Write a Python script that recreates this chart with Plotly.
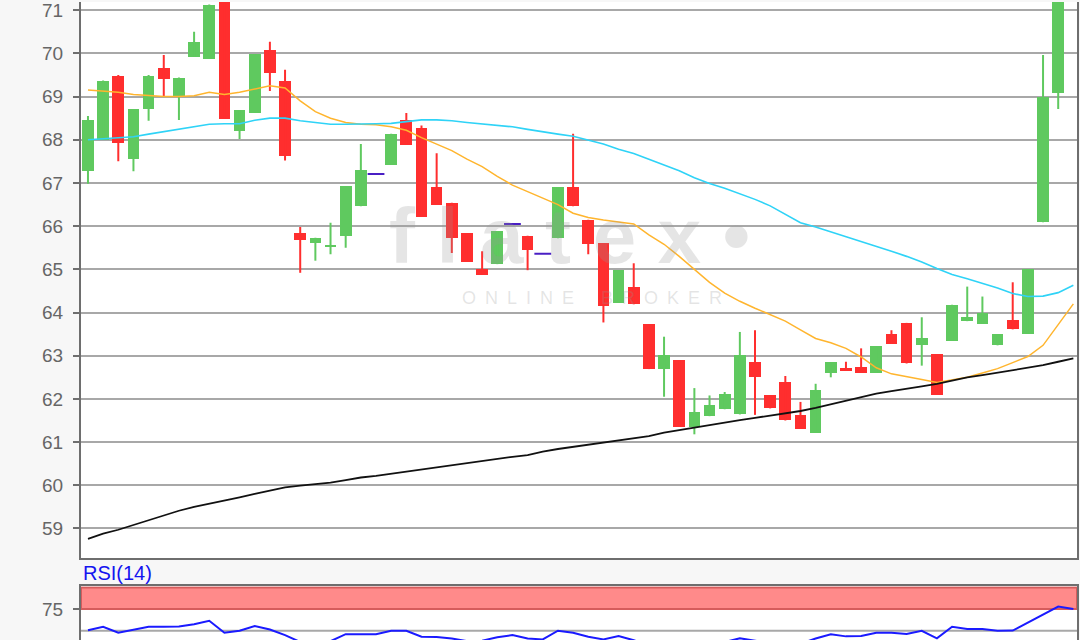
import plotly.graph_objects as go

# ---------------- data ----------------
opens = [67.28, 68.00, 69.48, 67.56, 68.71, 69.67, 69.01, 69.92, 69.87, 71.60,
         68.21, 68.63, 70.08, 69.35, 65.83, 65.62, 65.53, 65.77, 66.46, 67.21,
         67.42, 68.46, 68.28, 66.90, 66.54, 65.83, 65.00, 65.12, 66.05, 65.78,
         65.36, 65.72, 66.90, 66.15, 65.60, 64.23, 64.60, 63.73, 62.69, 62.90,
         61.34, 61.60, 61.76, 61.64, 62.85, 62.08, 62.39, 61.63, 61.22, 62.60,
         62.71, 62.75, 62.60, 63.50, 63.76, 63.25, 63.03, 63.34, 63.80, 63.74,
         63.24, 63.82, 63.51, 66.09, 69.09]
highs = [68.55, 69.37, 69.50, 68.71, 69.50, 69.96, 69.44, 70.50, 71.13, 71.60,
         68.69, 69.98, 70.27, 69.62, 65.98, 65.73, 66.08, 66.92, 67.90, 67.21,
         68.14, 68.62, 68.33, 67.69, 66.54, 65.83, 65.42, 65.88, 66.05, 65.78,
         65.36, 66.90, 68.14, 66.15, 65.60, 64.98, 65.14, 63.73, 63.44, 62.90,
         62.25, 62.08, 62.16, 63.55, 63.59, 62.08, 62.53, 61.93, 62.35, 62.85,
         62.86, 63.17, 63.22, 63.59, 63.76, 63.89, 63.03, 64.18, 64.60, 64.37,
         63.50, 64.70, 65.00, 69.96, 71.50]
lows = [66.98, 68.00, 67.50, 67.27, 68.44, 69.00, 68.46, 69.92, 69.87, 68.48,
        68.02, 68.63, 69.13, 67.52, 64.92, 65.20, 65.35, 65.50, 66.46, 67.21,
        67.42, 67.88, 66.22, 66.50, 65.38, 65.17, 64.88, 65.12, 66.05, 64.98,
        65.36, 65.72, 66.46, 65.35, 63.77, 64.23, 64.19, 62.69, 62.05, 61.36,
        61.18, 61.60, 61.76, 61.64, 61.63, 61.78, 61.50, 61.31, 61.22, 62.50,
        62.65, 62.60, 62.60, 63.28, 62.82, 62.77, 62.10, 63.34, 63.80, 63.74,
        63.24, 63.61, 63.51, 66.09, 68.71]
closes = [68.46, 69.35, 67.92, 68.71, 69.48, 69.41, 69.44, 70.27, 71.13, 68.48,
          68.69, 69.98, 69.55, 67.62, 65.68, 65.73, 65.57, 66.92, 67.31, 67.21,
          68.14, 67.88, 66.22, 66.50, 65.72, 65.17, 64.88, 65.88, 66.05, 65.44,
          65.36, 66.90, 66.46, 65.58, 64.15, 64.98, 64.19, 62.69, 63.02, 61.36,
          61.69, 61.85, 62.12, 63.02, 62.50, 61.78, 61.50, 61.31, 62.21, 62.85,
          62.65, 62.60, 63.22, 63.28, 62.82, 63.40, 62.10, 64.18, 63.90, 63.99,
          63.50, 63.61, 65.00, 69.00, 71.50]

ma_short = [69.15, 69.13, 69.10, 69.05, 69.02, 69.00, 69.00, 69.02, 69.10, 69.05,
            69.10, 69.18, 69.25, 69.20, 68.90, 68.65, 68.50, 68.40, 68.36, 68.35,
            68.30, 68.22, 68.05, 67.90, 67.75, 67.55, 67.38, 67.15, 66.95, 66.80,
            66.65, 66.50, 66.30, 66.20, 66.14, 66.10, 66.05, 65.80, 65.58, 65.30,
            65.00, 64.70, 64.45, 64.26, 64.10, 63.95, 63.80, 63.60, 63.40, 63.30,
            63.17, 62.97, 62.72, 62.58, 62.52, 62.45, 62.38, 62.44, 62.50, 62.60,
            62.70, 62.84, 62.98, 63.24, 63.72, 64.20]
ma_mid = [68.00, 68.02, 68.04, 68.07, 68.13, 68.19, 68.25, 68.30, 68.36, 68.37,
          68.37, 68.45, 68.50, 68.50, 68.44, 68.40, 68.36, 68.36, 68.36, 68.37,
          68.38, 68.42, 68.46, 68.46, 68.44, 68.40, 68.37, 68.33, 68.30, 68.24,
          68.18, 68.13, 68.08, 67.99, 67.90, 67.78, 67.68, 67.55, 67.42, 67.28,
          67.12, 66.99, 66.88, 66.75, 66.62, 66.47, 66.28, 66.08, 65.98, 65.87,
          65.76, 65.64, 65.53, 65.42, 65.30, 65.17, 65.02, 64.88, 64.78, 64.68,
          64.57, 64.44, 64.37, 64.38, 64.46, 64.63]
ma_long = [58.76, 58.88, 58.97, 59.08, 59.20, 59.30, 59.41, 59.50, 59.57, 59.64,
           59.72, 59.80, 59.88, 59.95, 59.99, 60.02, 60.06, 60.12, 60.18, 60.22,
           60.27, 60.32, 60.37, 60.42, 60.47, 60.52, 60.57, 60.62, 60.66, 60.70,
           60.78, 60.84, 60.89, 60.94, 61.00, 61.05, 61.09, 61.14, 61.22, 61.28,
           61.33, 61.40, 61.46, 61.51, 61.56, 61.61, 61.66, 61.72, 61.79, 61.87,
           61.96, 62.04, 62.12, 62.18, 62.23, 62.29, 62.35, 62.42, 62.50, 62.55,
           62.61, 62.66, 62.72, 62.78, 62.86, 62.94]
rsi = [50.5, 54.6, 47.7, 50.8, 54.6, 54.6, 55.0, 57.5, 61.5, 47.7,
       50.0, 55.4, 51.5, 45.0, 37.0, 36.0, 38.0, 46.0, 46.0, 46.0,
       50.0, 50.0, 43.0, 42.8, 41.0, 38.0, 38.5, 42.5, 45.0, 41.0,
       40.0, 50.0, 47.7, 43.0, 40.0, 43.9, 39.0, 33.0, 34.0, 30.0,
       32.0, 34.0, 37.0, 41.2, 38.0, 35.0, 33.0, 35.0, 41.0, 46.0,
       43.5, 43.9, 47.7, 47.7, 46.2, 50.0, 41.2, 54.6, 52.0, 52.0,
       50.0, 50.2, 59.5, 68.0, 78.0, 75.0]

price_ticks = [59, 60, 61, 62, 63, 64, 65, 66, 67, 68, 69, 70, 71]
rsi_ticks = [75]
rsi_grid = 50
rsi_band = (75, 100)

# ---------------- styles ----------------
GREEN = "#5fc95f"
RED = "#ff2e2e"
DOJI = "#4a1fc4"
AXIS = "#6e6e6e"
GRID = "#a8a8a8"
FONT = "Arial, Liberation Sans, sans-serif"

n = len(closes)
idx = list(range(n))
line_idx = list(range(len(ma_short)))

up = [i for i in idx if closes[i] > opens[i]]
dn = [i for i in idx if closes[i] < opens[i]]
dj = [i for i in idx if closes[i] == opens[i]]


def wick_xy(ids):
    xs, ys = [], []
    for i in ids:
        xs += [i, i, None]
        ys += [lows[i], highs[i], None]
    return xs, ys


fig = go.Figure()

for ids, col in ((up, GREEN), (dn, RED)):
    wx, wy = wick_xy(ids)
    fig.add_trace(go.Scatter(x=wx, y=wy, mode="lines", line=dict(color=col, width=2),
                             hoverinfo="skip", showlegend=False, xaxis="x", yaxis="y"))

fig.add_trace(go.Bar(x=up, base=[opens[i] for i in up], y=[closes[i] - opens[i] for i in up],
                     width=0.77, marker=dict(color=GREEN, line=dict(width=0)),
                     showlegend=False, xaxis="x", yaxis="y"))
fig.add_trace(go.Bar(x=dn, base=[closes[i] for i in dn], y=[opens[i] - closes[i] for i in dn],
                     width=0.77, marker=dict(color=RED, line=dict(width=0)),
                     showlegend=False, xaxis="x", yaxis="y"))
fig.add_trace(go.Scatter(x=dj, y=[closes[i] for i in dj], mode="markers",
                         marker=dict(symbol="line-ew", size=12, line=dict(color=DOJI, width=2)),
                         showlegend=False, xaxis="x", yaxis="y"))

fig.add_trace(go.Scatter(x=line_idx, y=ma_short, mode="lines", line=dict(color="#ffb52e", width=1.5),
                         showlegend=False, xaxis="x", yaxis="y"))
fig.add_trace(go.Scatter(x=line_idx, y=ma_mid, mode="lines", line=dict(color="#2fd3f7", width=1.6),
                         showlegend=False, xaxis="x", yaxis="y"))
fig.add_trace(go.Scatter(x=line_idx, y=ma_long, mode="lines", line=dict(color="#111111", width=1.8),
                         showlegend=False, xaxis="x", yaxis="y"))

fig.add_trace(go.Scatter(x=line_idx, y=rsi, mode="lines", line=dict(color="#1a1aff", width=2),
                         showlegend=False, xaxis="x2", yaxis="y2"))

xr = [-0.46, 65.24]

fig.update_layout(
    width=1080, height=640,
    margin=dict(l=81, r=3, t=0, b=0),
    paper_bgcolor="#f7f7f7", plot_bgcolor="#ffffff",
    barmode="overlay", bargap=0,
    font=dict(family=FONT, size=19, color="#666666"),
    xaxis=dict(domain=[0, 1], range=xr, showticklabels=False, showgrid=False, zeroline=False,
               showline=True, linecolor=AXIS, linewidth=2, mirror=False, ticks="", anchor="y"),
    yaxis=dict(domain=[82 / 640, 1.0], range=[58.31, 71.19], tickvals=price_ticks,
               showgrid=True, gridcolor=GRID, gridwidth=2, zeroline=False,
               showline=True, linecolor=AXIS, linewidth=2, mirror=True,
               ticks="outside", ticklen=6, tickwidth=2, tickcolor=AXIS, ticklabelstandoff=6,
               ticklabeloverflow="allow",
               tickfont=dict(size=19, color="#666666"), anchor="x"),
    xaxis2=dict(domain=[0, 1], range=xr, showticklabels=False, showgrid=False, zeroline=False,
                showline=True, linecolor=AXIS, linewidth=2, mirror=True, ticks="", anchor="y2"),
    yaxis2=dict(domain=[0, 54 / 640], range=[39.3, 101.5], tickvals=rsi_ticks,
                showgrid=False, zeroline=False,
                showline=True, linecolor=AXIS, linewidth=2, mirror=True,
                ticks="outside", ticklen=6, tickwidth=2, tickcolor=AXIS, ticklabelstandoff=6,
                ticklabeloverflow="allow",
                tickfont=dict(size=19, color="#666666"), anchor="x2"),
    shapes=[
        dict(type="rect", xref="x2 domain", yref="y2", x0=0, x1=1, y0=rsi_band[0], y1=rsi_band[1],
             fillcolor="#ff8a8a", line=dict(color="#d65c5c", width=2), layer="below"),
        dict(type="line", xref="x2 domain", yref="y2", x0=0, x1=1, y0=rsi_grid, y1=rsi_grid,
             line=dict(color=GRID, width=2), layer="below"),
    ],
    annotations=[
        dict(text="<b>f l a t e x \u2022</b>", xref="paper", yref="paper", x=0.49, y=0.633,
             xanchor="center", yanchor="middle", showarrow=False,
             font=dict(family=FONT, size=78, color="rgba(150,150,150,0.25)")),
        dict(text="O\u2002N\u2002L\u2002I\u2002N\u2002E\u2002\u2002\u2002B\u2002R\u2002O\u2002K\u2002E\u2002R",
             xref="paper", yref="paper", x=0.513, y=0.536, xanchor="center", yanchor="middle",
             showarrow=False, font=dict(family=FONT, size=18, color="rgba(150,150,150,0.25)")),
        dict(text="RSI(14)", xref="paper", yref="paper", x=0.0, y=(640 - 573) / 640,
             xanchor="left", yanchor="middle", showarrow=False,
             font=dict(family=FONT, size=20, color="#1414f0")),
    ],
)

fig.write_html("out.html", config={"displayModeBar": False},
               post_script="document.body.style.margin='0';")
